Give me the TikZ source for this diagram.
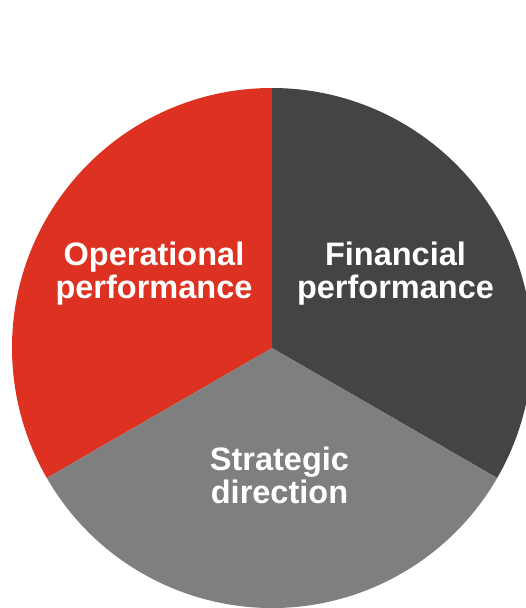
\documentclass[tikz,border=0pt]{standalone}
\usepackage{fontspec}
\setmainfont{Liberation Sans}
\definecolor{opred}{RGB}{221,50,33}
\definecolor{findark}{RGB}{68,68,68}
\definecolor{strgray}{RGB}{127,127,127}
\begin{document}
\begin{tikzpicture}[x=1pt,y=1pt,
  lbl/.style={text=white,font=\fontsize{32.5}{33}\selectfont\bfseries,align=center,inner sep=0pt,anchor=north}]
\useasboundingbox (0,0) rectangle (526,608);
\clip (0,0) rectangle (526,608);
\coordinate (c) at (272,260);
\fill[opred] (c) -- ++(90:260) arc[start angle=90,end angle=210,radius=260] -- cycle;
\fill[findark] (c) -- ++(-30:260) arc[start angle=-30,end angle=90,radius=260] -- cycle;
\fill[strgray] (c) -- ++(210:260) arc[start angle=210,end angle=330,radius=260] -- cycle;
\node[lbl] (op) at (154,366) {Operational\\performance};
\node[lbl] (fin) at (395.5,366) {Financial\\performance};
\node[lbl] (str) at (279.5,161.5) {Strategic\\direction};
\end{tikzpicture}
\end{document}
